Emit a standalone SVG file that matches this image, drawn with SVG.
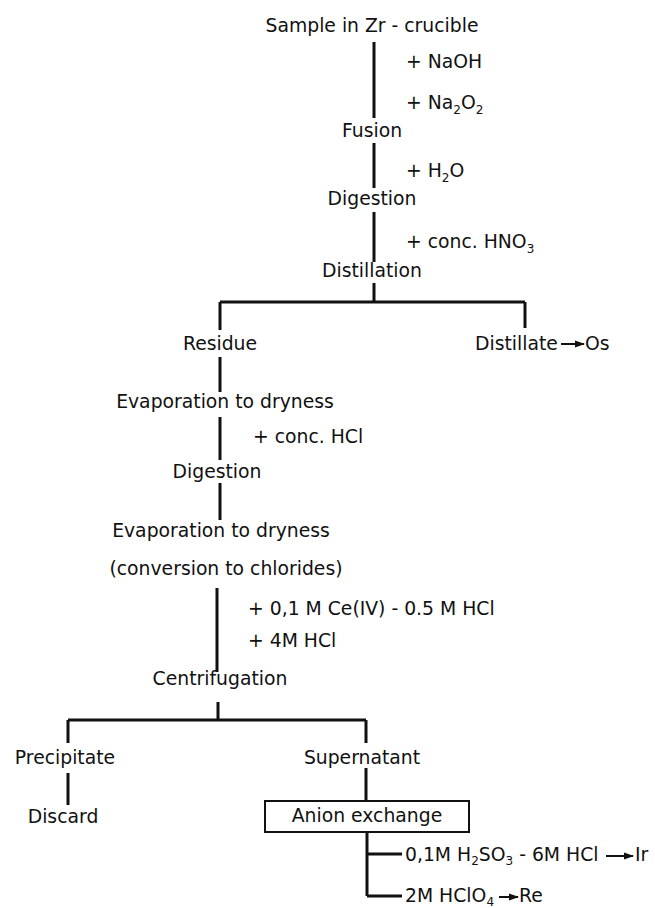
<svg xmlns="http://www.w3.org/2000/svg" width="655" height="908" viewBox="0 0 655 908">
  <style>
    text { font-family: "DejaVu Sans", "Liberation Sans", sans-serif; font-size: 18.8px; fill: #111; }
    .c { text-anchor: middle; }
    .sub { font-size: 12px; }
    .ln { stroke: #111; stroke-width: 3; fill: none; stroke-linejoin: round; }
    .box { stroke: #111; stroke-width: 2; fill: none; }
    .ar { stroke: #111; stroke-width: 2; fill: none; marker-end: url(#head); }
  </style>
  <defs>
    <marker id="head" markerWidth="10" markerHeight="8" refX="9" refY="4" orient="auto" markerUnits="userSpaceOnUse">
      <path d="M0,0.5 L10,4 L0,7.5 Z" fill="#111"/>
    </marker>
  </defs>

  <!-- flow lines -->
  <g id="connectors">
    <!-- main trunk down to the distillation split -->
    <path class="ln" d="M374,42 V118 M374,143 V188 M374,212 V262 M374,283 V302 M220,302 H525 M220,302 V330 M525,302 V328"/>
    <!-- residue branch -->
    <path class="ln" d="M220,357 V392 M220,417 V460 M220,483 V520"/>
    <!-- chloride solution to centrifugation split -->
    <path class="ln" d="M217,588 V672 M218,702 V720 M68,720 H366 M68,720 V743 M366,720 V743"/>
    <!-- precipitate / supernatant / column -->
    <path class="ln" d="M68,773 V805 M366,768 V801 M367,832 V896 M367,854 H402 M367,896 H402"/>
    <rect class="box" x="265" y="801" width="204" height="31"/>
    <!-- product arrows -->
    <line class="ar" x1="561" y1="344" x2="584" y2="344"/>
    <line class="ar" x1="606" y1="856" x2="633" y2="856"/>
    <line class="ar" x1="499" y1="897" x2="518" y2="897"/>
  </g>

  <g id="sample"><text class="c" x="372" y="32">Sample in Zr - crucible</text></g>
  <g id="reagent-naoh"><text x="406" y="68">+ NaOH</text></g>
  <g id="reagent-na2o2"><text x="406" y="109">+ Na<tspan class="sub" dy="5">2</tspan><tspan dy="-5">O</tspan><tspan class="sub" dy="5">2</tspan></text></g>
  <g id="fusion"><text class="c" x="372" y="137">Fusion</text></g>
  <g id="reagent-h2o"><text x="406" y="177">+ H<tspan class="sub" dy="5">2</tspan><tspan dy="-5">O</tspan></text></g>
  <g id="digestion-1"><text class="c" x="372" y="205">Digestion</text></g>
  <g id="reagent-hno3"><text x="406" y="248">+ conc. HNO<tspan class="sub" dy="5">3</tspan></text></g>
  <g id="distillation"><text class="c" x="372" y="277">Distillation</text></g>

  <g id="residue"><text class="c" x="220" y="350">Residue</text></g>
  <g id="distillate"><text x="475" y="350">Distillate</text><text x="585" y="350">Os</text></g>
  <g id="evaporation-1"><text class="c" x="225" y="408">Evaporation to dryness</text></g>
  <g id="reagent-hcl"><text x="253" y="443">+ conc. HCl</text></g>
  <g id="digestion-2"><text class="c" x="217" y="478">Digestion</text></g>
  <g id="evaporation-2"><text class="c" x="221" y="537">Evaporation to dryness</text></g>
  <g id="conversion"><text class="c" x="226" y="575">(conversion to chlorides)</text></g>
  <g id="reagent-ce"><text x="248" y="615">+ 0,1 M Ce(IV) - 0.5 M HCl</text></g>
  <g id="reagent-4m"><text x="248" y="647">+ 4M HCl</text></g>
  <g id="centrifugation"><text class="c" x="220" y="685">Centrifugation</text></g>

  <g id="precipitate"><text class="c" x="65" y="764">Precipitate</text></g>
  <g id="supernatant"><text class="c" x="362" y="764">Supernatant</text></g>
  <g id="discard"><text class="c" x="63" y="823">Discard</text></g>
  <g id="anion-exchange"><text class="c" x="367" y="822">Anion exchange</text></g>
  <g id="eluent-ir"><text x="405" y="861">0,1M H<tspan class="sub" dy="4">2</tspan><tspan dy="-4">SO</tspan><tspan class="sub" dy="4">3</tspan><tspan dy="-4"> - 6M HCl</tspan></text><text x="635" y="861">Ir</text></g>
  <g id="eluent-re"><text x="405" y="902">2M HClO<tspan class="sub" dy="4">4</tspan></text><text x="519" y="902">Re</text></g>
</svg>
